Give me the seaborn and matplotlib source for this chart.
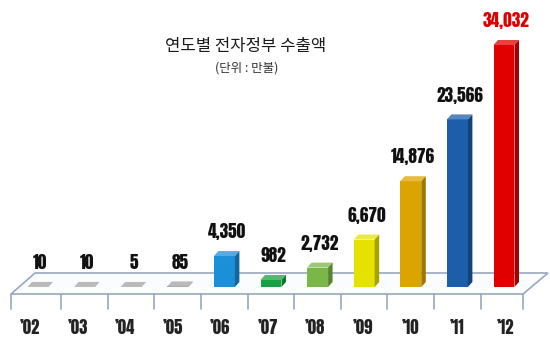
import matplotlib
matplotlib.use("Agg")
import matplotlib.pyplot as plt
import matplotlib.colors as mcolors
from matplotlib.patches import Polygon
from matplotlib import font_manager as fm
import seaborn as sns
import pandas as pd
import numpy as np

years = ["’02", "’03", "’04", "’05", "’06", "’07", "’08", "’09", "’10", "’11", "’12"]
values = [10, 10, 5, 85, 4350, 982, 2732, 6670, 14876, 23566, 34032]
colors = ["#a3a3a3", "#a3a3a3", "#a3a3a3", "#a3a3a3", "#1b8fd8", "#19a040",
          "#7ab648", "#e6e200", "#dca400", "#1c5eaa", "#e10000"]
title = "연도별 전자정부 수출액"
subtitle = "(단위 : 만불)"

sns.set_theme(style="white")

available = {f.name for f in fm.fontManager.ttflist}
num_font = "DejaVu Sans"
for cand in ["Anton", "Oswald", "Fjalla One", "Roboto Condensed", "Archivo Narrow",
             "PT Sans Narrow", "IBM Plex Sans Condensed"]:
    if cand in available:
        num_font = cand
        break
NUM_FONT = [num_font, "DejaVu Sans"]
KR_FONT = ["Noto Sans CJK KR", "DejaVu Sans"]

df = pd.DataFrame({"year": years, "value": values})

fig = plt.figure(figsize=(5.5, 3.46), dpi=100)
ax = fig.add_axes([0, 0, 1, 1])
sns.barplot(data=df, x="year", y="value", hue="year", palette=colors,
            width=0.45, legend=False, ax=ax, saturation=1)

# pixel <-> data helpers (layout only)
px_per_unit = 242 / 34032.0
base_px = 287
x0_px, step_px = 38.0, 46.6
def ypx(p):
    return (base_px - p) / px_per_unit
def xpx(p):
    return (p - x0_px) / step_px

ax.set_xlim(xpx(0), xpx(550))
ax.set_ylim(ypx(346), ypx(0))
ax.axis("off")

# floor parallelogram
floor_col = "#98a8be"
floor = Polygon([(xpx(11), ypx(294)), (xpx(35), ypx(273)), (xpx(548), ypx(273)),
                 (xpx(523), ypx(294))], closed=True, facecolor="#fbfcfe",
                edgecolor=floor_col, lw=1.2, zorder=0)
ax.add_patch(floor)
for i in range(len(years) + 1):
    xb = i - 0.5
    if i == 0:
        xb = xpx(11)
    if i == len(years):
        xb = xpx(523)
    ax.plot([xb, xb], [ypx(294), ypx(309)], color=floor_col, lw=1.2, zorder=0)

# 3D faces from bar geometry
dx = 4.5 / step_px
dy = 5 / px_per_unit
for patch, c in zip(list(ax.patches), colors):
    x0 = patch.get_x(); w = patch.get_width(); h = patch.get_height()
    y0 = patch.get_y()
    rgb = np.array(mcolors.to_rgb(c))
    light = tuple(np.clip(rgb + (1 - rgb) * 0.25, 0, 1))
    dark = tuple(rgb * 0.72)
    patch.set_zorder(3)
    patch.set_edgecolor("none")
    top = Polygon([(x0, y0 + h), (x0 + dx, y0 + h + dy), (x0 + w + dx, y0 + h + dy),
                   (x0 + w, y0 + h)], closed=True, facecolor=light, edgecolor="none", zorder=3)
    side = Polygon([(x0 + w, y0), (x0 + w + dx, y0 + dy), (x0 + w + dx, y0 + h + dy),
                    (x0 + w, y0 + h)], closed=True, facecolor=dark, edgecolor="none", zorder=3)
    ax.add_patch(top)
    ax.add_patch(side)

# value labels
for i, v in enumerate(values):
    col = "#e00000" if i == len(values) - 1 else "#111111"
    ax.annotate(f"{v:,}", (i + dx / 2, v), xytext=(0, 17.5), textcoords="offset points",
                ha="center", va="center", fontsize=12.5, fontweight="bold",
                family=NUM_FONT, color=col, zorder=5)

# category labels
n = len(years)
for i, y in enumerate(years):
    off = (-8 + 9 * i / (n - 1)) / step_px
    ax.text(i + off, ypx(327), y, ha="center", va="center", fontsize=12,
            fontweight="bold", family=NUM_FONT, color="#222222")

# title
fig.text(246 / 550, 1 - 47 / 346, title, ha="center", va="center", fontsize=12,
         fontweight="medium", family=KR_FONT, color="#1a1a1a")
fig.text(247 / 550, 1 - 68 / 346, subtitle, ha="center", va="center", fontsize=9,
         family=KR_FONT, color="#333333")

fig.savefig("out.png", dpi=100)
